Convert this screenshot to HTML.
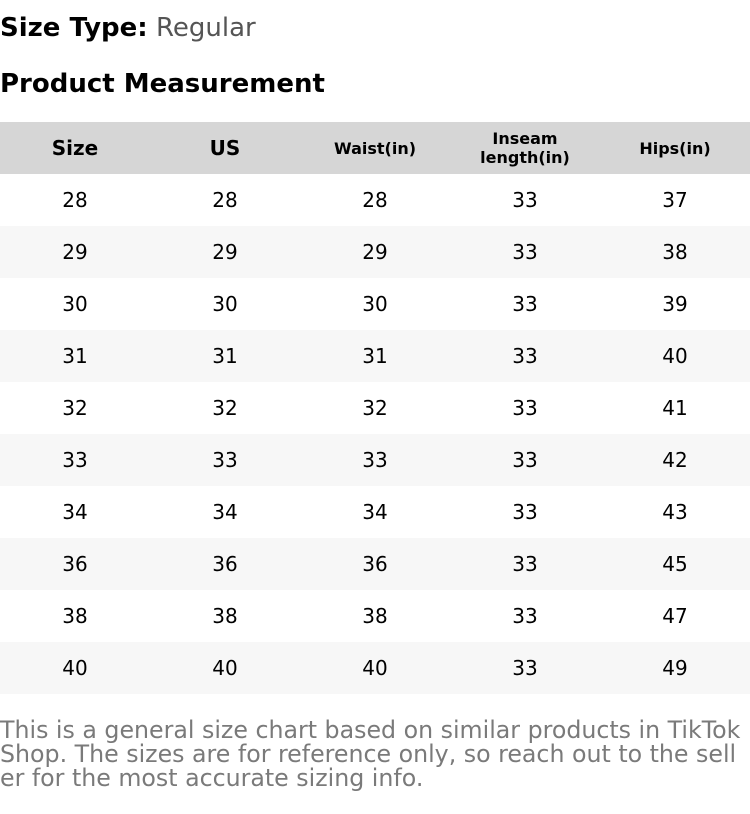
<!DOCTYPE html>
<html><head><meta charset="utf-8"><style>
body{margin:0;width:750px;height:814px;background:#fff;font-family:"DejaVu Sans","Liberation Sans",sans-serif;color:#000;overflow:hidden}
.t1{position:absolute;left:0;top:12px;font-size:26px;line-height:32px}
.t1 b{font-weight:bold}.t1 span{color:#555}
.t2{position:absolute;left:0;top:68px;font-size:26px;font-weight:bold;line-height:32px}
table{position:absolute;left:0;top:122px;width:750px;border-collapse:collapse;table-layout:fixed}
td,th{height:52px;padding:0;text-align:center;font-size:20px;font-weight:normal}
th{background:#d6d6d6;font-weight:bold}
th.s{font-size:16px;line-height:19px}
tr:nth-child(odd) td{background:#f7f7f7}
.f{position:absolute;left:0;top:718px;width:750px;font-size:23.7px;line-height:24px;color:#7a7a7a;word-break:break-all}
</style></head><body>
<div class="t1"><b>Size Type:</b> <span>Regular</span></div>
<div class="t2">Product Measurement</div>
<table>
<tr><th>Size</th><th>US</th><th class="s">Waist(in)</th><th class="s">Inseam<br>length(in)</th><th class="s">Hips(in)</th></tr>
<tr><td>28</td><td>28</td><td>28</td><td>33</td><td>37</td></tr>
<tr><td>29</td><td>29</td><td>29</td><td>33</td><td>38</td></tr>
<tr><td>30</td><td>30</td><td>30</td><td>33</td><td>39</td></tr>
<tr><td>31</td><td>31</td><td>31</td><td>33</td><td>40</td></tr>
<tr><td>32</td><td>32</td><td>32</td><td>33</td><td>41</td></tr>
<tr><td>33</td><td>33</td><td>33</td><td>33</td><td>42</td></tr>
<tr><td>34</td><td>34</td><td>34</td><td>33</td><td>43</td></tr>
<tr><td>36</td><td>36</td><td>36</td><td>33</td><td>45</td></tr>
<tr><td>38</td><td>38</td><td>38</td><td>33</td><td>47</td></tr>
<tr><td>40</td><td>40</td><td>40</td><td>33</td><td>49</td></tr>
</table>
<div class="f">This is a general size chart based on similar products in TikTok Shop. The sizes are for reference only, so reach out to the seller for the most accurate sizing info.</div>
</body></html>
